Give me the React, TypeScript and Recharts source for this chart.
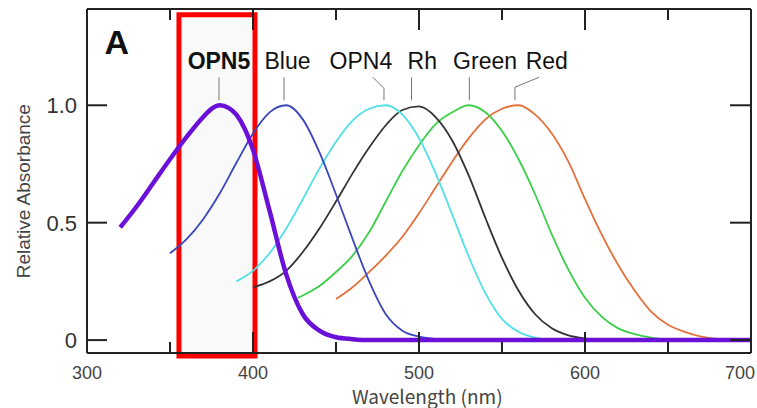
import React from 'react';
import { LineChart, Line, XAxis, YAxis, ReferenceArea, ReferenceLine, ReferenceDot } from 'recharts';

// absorbance, [wavelength nm, relative absorbance]
const opn5 = [[320, 0.48], [330, 0.57], [340, 0.67], [350, 0.77], [360, 0.865], [370, 0.95], [375, 0.985], [380, 1.0], [385, 0.99], [390, 0.96], [395, 0.9], [400, 0.81], [410, 0.55], [420, 0.28], [430, 0.11], [440, 0.04], [450, 0.012], [460, 0.004], [470, 0], [500, 0], [550, 0], [600, 0], [650, 0], [700, 0]];
const blue = [[350, 0.37], [360, 0.43], [370, 0.515], [380, 0.625], [390, 0.755], [400, 0.88], [410, 0.97], [420, 1.0], [430, 0.94], [440, 0.8], [450, 0.62], [460, 0.43], [470, 0.25], [480, 0.11], [490, 0.04], [500, 0.015], [510, 0.005], [520, 0]];
const opn4 = [[390, 0.25], [400, 0.295], [410, 0.37], [420, 0.475], [430, 0.6], [440, 0.73], [450, 0.845], [460, 0.935], [470, 0.985], [480, 1.0], [490, 0.96], [500, 0.86], [510, 0.71], [520, 0.535], [530, 0.355], [540, 0.2], [550, 0.09], [560, 0.035], [570, 0.01], [580, 0]];
const rh = [[400, 0.225], [410, 0.25], [420, 0.295], [430, 0.375], [440, 0.475], [450, 0.59], [460, 0.71], [470, 0.82], [480, 0.915], [490, 0.98], [500, 0.995], [510, 0.95], [520, 0.85], [530, 0.7], [540, 0.52], [550, 0.35], [560, 0.21], [570, 0.11], [580, 0.05], [590, 0.02], [600, 0.007], [610, 0]];
const green = [[427, 0.18], [430, 0.19], [440, 0.23], [450, 0.29], [460, 0.36], [470, 0.46], [480, 0.59], [490, 0.72], [500, 0.83], [510, 0.92], [520, 0.97], [530, 1.0], [540, 0.97], [550, 0.89], [560, 0.77], [570, 0.62], [580, 0.45], [590, 0.3], [600, 0.18], [610, 0.1], [620, 0.05], [630, 0.025], [640, 0.01], [650, 0]];
const red = [[450, 0.175], [460, 0.225], [470, 0.29], [480, 0.36], [490, 0.44], [500, 0.54], [510, 0.65], [520, 0.76], [530, 0.86], [540, 0.94], [550, 0.985], [560, 1.0], [570, 0.96], [580, 0.88], [590, 0.76], [600, 0.6], [610, 0.45], [620, 0.32], [630, 0.21], [640, 0.12], [650, 0.065], [660, 0.035], [670, 0.015], [680, 0.005], [690, 0]];

const xTicks = [300, 350, 400, 450, 500, 550, 600, 650, 700];
const yTicks = [0, 0.5, 1.0];
const yMin = -0.055;
const yMax = 1.41;

// pigment names above the peaks, with their leader lines
const names = ['OPN5', 'Blue', 'OPN4', 'Rh', 'Green', 'Red'];
const nameX = [379.5, 420.8, 465, 502, 539.8, 577];
const leaders = [
  [[379.5, 1.119], [379.5, 1.021]],
  [[418.7, 1.119], [418.7, 1.021]],
  [[472.3, 1.119], [478.9, 1.072], [478.9, 1.021]],
  [[495.5, 1.119], [495.5, 1.021]],
  [[530.3, 1.119], [530.3, 1.021]],
  [[572.3, 1.119], [557.8, 1.077], [557.8, 1.021]],
];

const toPts = (arr: number[][]) => arr.map(([wl, v]) => ({ wl, v }));

const font = 'Liberation Sans, Arial, sans-serif';
const W = 757;
const H = 408;
const M = { top: 9, right: 5, bottom: 54, left: 86 };
const plotH = H - M.top - M.bottom - 1;

// bottom ticks also draw the matching inward tick on the top frame
function BottomTick({ x, y, payload }: any) {
  const v = payload.value;
  const major = v % 100 === 0;
  const edge = v === 300 || v === 700;
  const len = major ? 21 : 11;
  const top = y - plotH;
  return (
    <g>
      {!edge && <line x1={x} y1={y} x2={x} y2={y - len} stroke="#222" strokeWidth={2} />}
      {!edge && <path d={`M${x},${top}V${top + len}`} stroke="#222" strokeWidth={2} fill="none" />}
      {major && (
        <text x={v === 700 ? x - 11 : x} y={y + 26} textAnchor="middle" fontSize={18} fill="#444" fontFamily={font}>
          {v}
        </text>
      )}
    </g>
  );
}

function LeftTick({ x, y, payload }: any) {
  const v = payload.value;
  return (
    <g>
      <line x1={x} y1={y} x2={x + 20} y2={y} stroke="#222" strokeWidth={2} />
      <text x={x - 10} y={y + 8} textAnchor="end" fontSize={22} fill="#333" fontFamily={font}>
        {v === 0 ? '0' : v.toFixed(1)}
      </text>
    </g>
  );
}

function RightTick({ x, y }: any) {
  return <line x1={x} y1={y} x2={x - 21} y2={y} stroke="#222" strokeWidth={2} />;
}

export default function App() {
  return (
    <div style={{ position: 'absolute', left: 0, top: 0, background: '#fff' }}>
      <LineChart width={W} height={H} margin={M}>
        <XAxis xAxisId="b" type="number" dataKey="wl" domain={[300, 700]} ticks={xTicks} height={1} tickSize={0} tickMargin={0}
          interval={0} tick={<BottomTick />} axisLine={{ stroke: '#222', strokeWidth: 2 }} allowDataOverflow />
        <YAxis yAxisId="l" type="number" domain={[yMin, yMax]} ticks={yTicks} width={1} tickSize={0} tickMargin={0}
          interval={0} tick={<LeftTick />} axisLine={{ stroke: '#222', strokeWidth: 2 }} allowDataOverflow />
        <YAxis yAxisId="r" orientation="right" type="number" domain={[yMin, yMax]} ticks={yTicks} width={1} tickSize={0} tickMargin={0}
          interval={0} tick={<RightTick />} axisLine={{ stroke: '#222', strokeWidth: 2 }} allowDataOverflow />

        {/* top frame */}
        <ReferenceLine xAxisId="b" yAxisId="l" y={yMax} stroke="#222" strokeWidth={2} ifOverflow="visible" />

        <Line xAxisId="b" yAxisId="l" data={toPts(red)} dataKey="v" type="monotone" stroke="#e4703c" strokeWidth={1.8} dot={false} isAnimationActive={false} />
        <Line xAxisId="b" yAxisId="l" data={toPts(green)} dataKey="v" type="monotone" stroke="#3ccf4a" strokeWidth={1.8} dot={false} isAnimationActive={false} />
        <Line xAxisId="b" yAxisId="l" data={toPts(rh)} dataKey="v" type="monotone" stroke="#333333" strokeWidth={1.8} dot={false} isAnimationActive={false} />
        <Line xAxisId="b" yAxisId="l" data={toPts(opn4)} dataKey="v" type="monotone" stroke="#4ee0e6" strokeWidth={1.8} dot={false} isAnimationActive={false} />
        <Line xAxisId="b" yAxisId="l" data={toPts(blue)} dataKey="v" type="monotone" stroke="#3a46bc" strokeWidth={1.8} dot={false} isAnimationActive={false} />
        <Line xAxisId="b" yAxisId="l" data={toPts(opn5)} dataKey="v" type="monotone" stroke="#6a10d8" strokeWidth={4.5} dot={false} isAnimationActive={false} />

        {leaders.map((seg, i) =>
          seg.slice(1).map((p, j) => (
            <ReferenceLine key={`${i}-${j}`} xAxisId="b" yAxisId="l" ifOverflow="visible" stroke="#777" strokeWidth={1}
              segment={[{ x: seg[j][0], y: seg[j][1] }, { x: p[0], y: p[1] }]} />
          ))
        )}
        {names.map((n, i) => (
          <ReferenceDot key={n} xAxisId="b" yAxisId="l" x={nameX[i]} y={1.19} r={0} fill="none" stroke="none" ifOverflow="visible"
            label={{ value: n, position: 'center', fontSize: 23, fill: '#111', fontFamily: font, fontWeight: i === 0 ? 'bold' : 'normal' }} />
        ))}
        <ReferenceDot xAxisId="b" yAxisId="l" x={318} y={1.27} r={0} fill="none" stroke="none" ifOverflow="visible"
          label={{ value: 'A', position: 'center', fontSize: 34, fill: '#111', fontFamily: font, fontWeight: 'bold' }} />

        {/* axis titles */}
        <ReferenceDot xAxisId="b" yAxisId="l" x={505} y={-0.243} r={0} fill="none" stroke="none" ifOverflow="visible"
          label={{ value: 'Wavelength (nm)', position: 'center', fontSize: 19, fill: '#444', fontFamily: 'Noto Sans CJK JP' }} />
        <ReferenceDot xAxisId="b" yAxisId="l" x={261.4} y={0.634} r={0} fill="none" stroke="none" ifOverflow="visible"
          label={{ value: 'Relative Absorbance', position: 'center', angle: -90, fontSize: 19, fill: '#444', fontFamily: font }} />

        <ReferenceArea xAxisId="b" yAxisId="l" x1={355.4} x2={401.2} y1={-0.068} y2={1.385} ifOverflow="visible"
          fill="#000" fillOpacity={0.025} stroke="#ff0000" strokeWidth={5} />
      </LineChart>
    </div>
  );
}
